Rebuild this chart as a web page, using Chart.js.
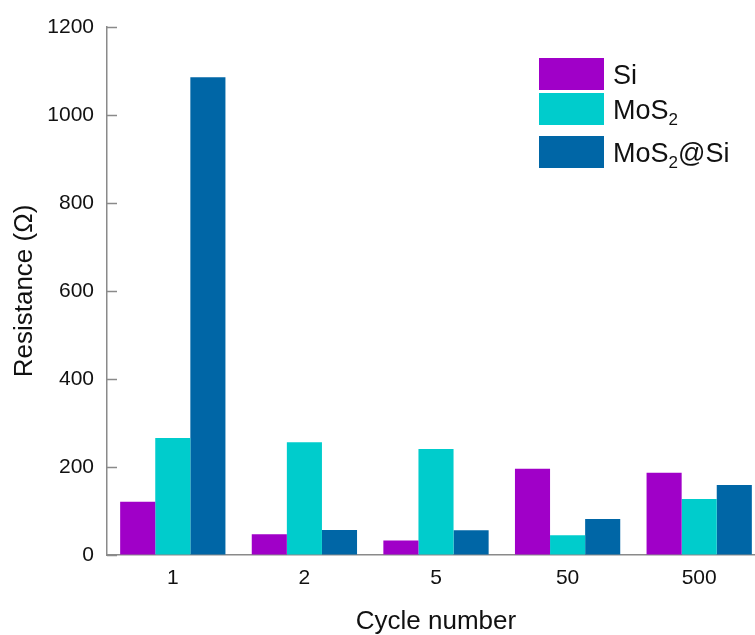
<!DOCTYPE html>
<html>
<head>
<meta charset="utf-8">
<script src="https://cdn.jsdelivr.net/npm/chart.js@4.4.1/dist/chart.umd.min.js"></script>
<style>
  html, body { margin: 0; padding: 0; background: #fff; overflow: hidden; }
  #wrap { width: 755px; height: 635px; overflow: hidden; }
</style>
</head>
<body>
<div id="wrap"><canvas id="chart" width="765" height="635"></canvas></div>
<script>
const cycles = ['1', '2', '5', '50', '500'];
const seriesNames = ['Si', 'MoS₂', 'MoS₂@Si'];
const siValues = [121, 47, 33, 196, 187];
const mos2Values = [266, 256, 241, 45, 127];
const mos2SiValues = [1086, 57, 56, 82, 159];
const yTicks = [0, 200, 400, 600, 800, 1000, 1200];
const colors = ['#a000c8', '#00cccc', '#0066a6'];

const FONT = "'Liberation Sans', Arial, Helvetica, sans-serif";
const axisGray = '#8a8a8a';

// ticks on the y axis point into the plot
const innerTicks = {
  id: 'innerTicks',
  afterDraw(chart) {
    const y = chart.scales.y;
    const left = chart.chartArea.left;
    const ctx = chart.ctx;
    ctx.save();
    ctx.strokeStyle = axisGray;
    ctx.lineWidth = 1.5;
    yTicks.forEach(v => {
      const py = Math.round(y.getPixelForValue(v)) + 0.5;
      ctx.beginPath();
      ctx.moveTo(left, py);
      ctx.lineTo(left + 10, py);
      ctx.stroke();
    });
    ctx.restore();
  }
};

// legend with real subscripts
const subLegend = {
  id: 'subLegend',
  afterDraw(chart) {
    const ctx = chart.ctx;
    const boxX = 539, boxW = 65, boxH = 32;
    const boxTops = [58, 93, 136];
    const size = 27;
    ctx.save();
    chart.data.datasets.forEach((ds, i) => {
      const top = boxTops[i];
      ctx.fillStyle = ds.backgroundColor;
      ctx.fillRect(boxX, top, boxW, boxH);
      const mid = top + boxH / 2;
      let x = 613;
      ctx.fillStyle = '#111';
      ctx.textBaseline = 'alphabetic';
      ctx.textAlign = 'left';
      const base = mid + size * 0.36;
      ds.label.split(/(₂)/).forEach(part => {
        if (!part) return;
        if (part === '₂') {
          ctx.font = `${Math.round(size * 0.62)}px ${FONT}`;
          ctx.fillText('2', x, base + 6);
          x += ctx.measureText('2').width;
        } else {
          ctx.font = `${size}px ${FONT}`;
          ctx.fillText(part, x, base);
          x += ctx.measureText(part).width;
        }
      });
    });
    ctx.restore();
  }
};

new Chart(document.getElementById('chart'), {
  type: 'bar',
  data: {
    labels: cycles,
    datasets: [
      { label: seriesNames[0], data: siValues, backgroundColor: colors[0] },
      { label: seriesNames[1], data: mos2Values, backgroundColor: colors[1] },
      { label: seriesNames[2], data: mos2SiValues, backgroundColor: colors[2] }
    ]
  },
  options: {
    responsive: false,
    devicePixelRatio: 1,
    animation: false,
    layout: { padding: { top: 27, right: 0, bottom: 0, left: 0 } },
    datasets: { bar: { categoryPercentage: 0.8, barPercentage: 1.0, borderWidth: 0 } },
    plugins: {
      legend: { display: false },
      tooltip: { enabled: false }
    },
    scales: {
      x: {
        grid: { display: true, drawOnChartArea: false, drawTicks: false },
        border: { display: true, color: axisGray, width: 1.5 },
        ticks: { color: '#111', font: { family: FONT, size: 21 }, padding: 11 },
        title: {
          display: true, text: 'Cycle number', color: '#111',
          font: { family: FONT, size: 26 }, padding: { top: 0, bottom: -2 }
        },
        afterFit(scale) { scale.height = 80; }
      },
      y: {
        min: 0, max: 1200,
        grid: { display: true, drawOnChartArea: false, drawTicks: false },
        border: { display: true, color: axisGray, width: 1.5 },
        ticks: {
          stepSize: 200, color: '#111', padding: 13,
          font: { family: FONT, size: 21 },
          callback: v => String(v)
        },
        title: {
          display: true, text: 'Resistance (Ω)', color: '#111',
          font: { family: FONT, size: 26 }, padding: { top: 9, bottom: 0 }
        },
        afterFit(scale) { scale.width = 107; }
      }
    }
  },
  plugins: [innerTicks, subLegend]
});
</script>
</body>
</html>
